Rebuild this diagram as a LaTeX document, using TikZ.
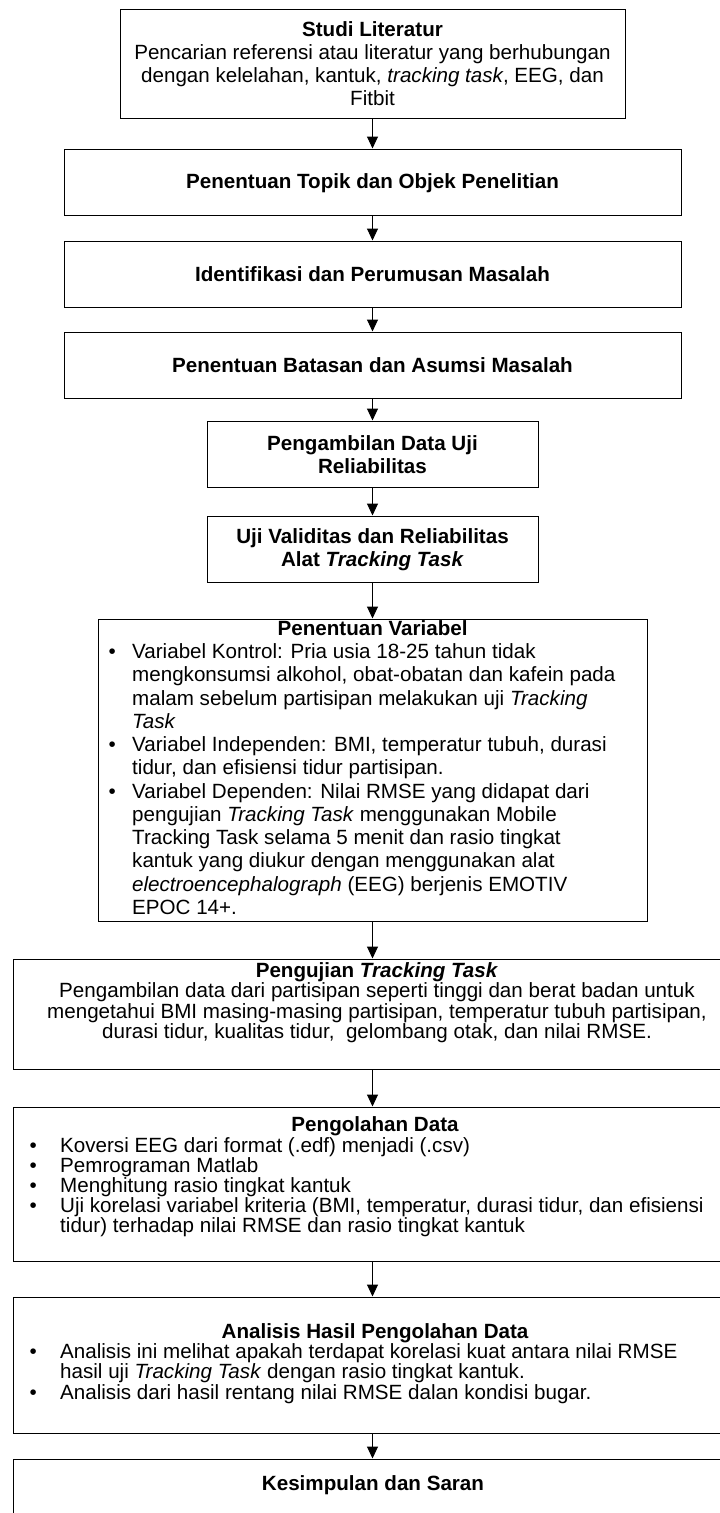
\documentclass[tikz,border=0pt]{standalone}
\usepackage{fontspec}
\setmainfont{Liberation Sans}
\usetikzlibrary{arrows.meta}
\newcommand\bu[1]{\makebox[#1][l]{\textbullet}}
\newcommand\cind[1]{\hspace*{#1}}
\begin{document}
\begin{tikzpicture}[x=1pt,y=-1pt,
  box/.style={draw=black, line width=1pt, inner sep=0pt, rectangle},
  txt/.style={font=\fontsize{20.6}{23}\selectfont, align=center, inner sep=0pt},
  lst/.style={font=\fontsize{20.6}{23.25}\selectfont, align=left, inner sep=0pt, anchor=west},
  lstb/.style={font=\fontsize{20.6}{20.2}\selectfont, align=left, inner sep=0pt, anchor=west},
  arr/.style={-{Triangle[length=12pt,width=11pt]}, line width=1pt}]
\path[use as bounding box] (0,0) rectangle (720,1513);
\clip (0,0) rectangle (720,1513);
% boxes
\node[box, minimum width=505pt, minimum height=109pt] (b1) at (372.5,63.5) {};
\node[box, minimum width=617pt, minimum height=66pt] (b2) at (372.5,182) {};
\node[box, minimum width=617pt, minimum height=66pt] (b3) at (372.5,274) {};
\node[box, minimum width=617pt, minimum height=66pt] (b4) at (372.5,365) {};
\node[box, minimum width=331pt, minimum height=66pt] (b5) at (372.5,454) {};
\node[box, minimum width=331pt, minimum height=66pt] (b6) at (372.5,549) {};
\node[box, minimum width=549pt, minimum height=302pt] (b7) at (372.5,770) {};
\node[box, minimum width=719pt, minimum height=110pt] (b8) at (372.5,1014) {};
\node[box, minimum width=719pt, minimum height=154pt] (b9) at (372.5,1184) {};
\node[box, minimum width=719pt, minimum height=136pt] (b10) at (372.5,1365) {};
\node[box, minimum width=719pt, minimum height=100pt] (b11) at (372.5,1509) {};
% texts
\node[txt] (t1) at (372.5,63.5) {\textbf{Studi Literatur}\\Pencarian referensi atau literatur yang berhubungan\\dengan kelelahan, kantuk, \textit{tracking task}, EEG, dan\\Fitbit};
\node[txt] (t2) at (372.5,183) {\textbf{Penentuan Topik dan Objek Penelitian}};
\node[txt] (t3) at (372.5,274) {\textbf{Identifikasi dan Perumusan Masalah}};
\node[txt] (t4) at (372.5,365) {\textbf{Penentuan Batasan dan Asumsi Masalah}};
\node[txt] (t5) at (372.5,455) {\textbf{Pengambilan Data Uji}\\\textbf{Reliabilitas}};
\node[txt] (t6) at (372.5,550) {\textbf{Uji Validitas dan Reliabilitas}\\\textbf{Alat \textit{Tracking Task}}};
\node[lst] (t7) at (108.4,767.5) {\makebox[528pt][c]{\textbf{Penentuan Variabel}}\\
\bu{23.6pt}Variabel Kontrol: Pria usia 18-25 tahun tidak\\
\cind{23.6pt}mengkonsumsi alkohol, obat-obatan dan kafein pada\\
\cind{23.6pt}malam sebelum partisipan melakukan uji \textit{Tracking}\\
\cind{23.6pt}\textit{Task}\\
\bu{23.6pt}Variabel Independen: BMI, temperatur tubuh, durasi\\
\cind{23.6pt}tidur, dan efisiensi tidur partisipan.\\
\bu{23.6pt}Variabel Dependen: Nilai RMSE yang didapat dari\\
\cind{23.6pt}pengujian \textit{Tracking Task} menggunakan Mobile\\
\cind{23.6pt}Tracking Task selama 5 menit dan rasio tingkat\\
\cind{23.6pt}kantuk yang diukur dengan menggunakan alat\\
\cind{23.6pt}\textit{electroencephalograph} (EEG) berjenis EMOTIV\\
\cind{23.6pt}EPOC 14+.};
\node[txt, font=\fontsize{20.6}{20.4}\selectfont] (t8) at (377,1002.5) {\textbf{Pengujian \textit{Tracking Task}}\\
Pengambilan data dari partisipan seperti tinggi dan berat badan untuk\\
mengetahui BMI masing-masing partisipan, temperatur tubuh partisipan,\\
durasi tidur, kualitas tidur,\ \ gelombang otak, dan nilai RMSE.};
\node[lstb] (t9) at (29.4,1177) {\makebox[691pt][c]{\textbf{Pengolahan Data}}\\
\bu{30.6pt}Koversi EEG dari format (.edf) menjadi (.csv)\\
\bu{30.6pt}Pemrograman Matlab\\
\bu{30.6pt}Menghitung rasio tingkat kantuk\\
\bu{30.6pt}Uji korelasi variabel kriteria (BMI, temperatur, durasi tidur, dan efisiensi\\
\cind{30.6pt}tidur) terhadap nilai RMSE dan rasio tingkat kantuk};
\node[lstb] (t10) at (29.4,1363.5) {\makebox[691pt][c]{\textbf{Analisis Hasil Pengolahan Data}}\\
\bu{30.6pt}Analisis ini melihat apakah terdapat korelasi kuat antara nilai RMSE\\
\cind{30.6pt}hasil uji \textit{Tracking Task} dengan rasio tingkat kantuk.\\
\bu{30.6pt}Analisis dari hasil rentang nilai RMSE dalan kondisi bugar.};
\node[txt] (t11) at (373,1485) {\textbf{Kesimpulan dan Saran}};
% arrows
\draw[arr] (b1.south) -- (b2.north);
\draw[arr] (b2.south) -- (b3.north);
\draw[arr] (b3.south) -- (b4.north);
\draw[arr] (b4.south) -- (b5.north);
\draw[arr] (b5.south) -- (b6.north);
\draw[arr] (b6.south) -- (b7.north);
\draw[arr] (b7.south) -- (b8.north);
\draw[arr] (b8.south) -- (b9.north);
\draw[arr] (b9.south) -- (b10.north);
\draw[arr] (b10.south) -- (b11.north);
\end{tikzpicture}
\end{document}
